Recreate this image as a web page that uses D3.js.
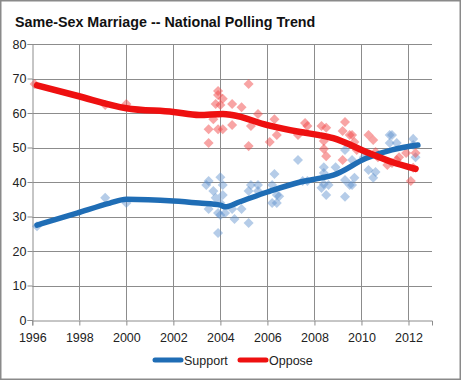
<!DOCTYPE html>
<html><head><meta charset="utf-8">
<script src="https://cdn.jsdelivr.net/npm/d3@7"></script>
<style>body{margin:0;background:#fff;font-family:"Liberation Sans",Arial,sans-serif}</style>
</head><body><svg id="c" width="461" height="380"></svg>
<script>
const title = "Same-Sex Marriage -- National Polling Trend";
const xTicks = [1996,1998,2000,2002,2004,2006,2008,2010,2012];
const yTicks = [0,10,20,30,40,50,60,70,80];
const seriesNames = ["Support","Oppose"];

const supportTrendYears = [1996.2,1997.9,1999.3,2000,2002,2003.1,2004,2004.2,2004.8,2006,2007.4,2008.3,2008.8,2010.2,2011.3,2012.4];
const supportTrendVals  = [27.5,31,33.9,35,34.5,33.9,33.3,32.8,34.2,37.1,40,41.2,42,46.9,49.3,50.7];
const opposeTrendYears = [1996.2,1997.9,2000,2002,2003.1,2004.1,2004.5,2006,2007.4,2008.2,2008.8,2010.2,2011.3,2012.3];
const opposeTrendVals  = [68,65,61.4,60.3,59.4,59.7,59.4,56.5,54.5,53.6,52.7,48.7,45.8,43.8];

const supportPollYears = [1996.2,1999.1,2000,2003.5,2003.4,2004,2004.1,2003.7,2004.1,2003.8,2004,2003.5,2003.9,2004,2004.2,2004.5,2004.9,2004.6,2005.2,2003.9,2005.2,2005.3,2005.6,2005.6,2006.2,2006.3,2006.4,2006.2,2006.4,2006.5,2007.3,2007.5,2007.7,2008.4,2008.4,2008.4,2008.3,2008.6,2008.5,2008.9,2009.3,2009.3,2009.3,2009.5,2009.6,2009.7,2009.6,2010.1,2010.3,2010.5,2010.6,2011.2,2011.3,2011.2,2011.5,2012.2,2012.2,2012.3];
const supportPollVals  = [27.2,35.4,33.9,40.3,39.1,41.4,39.1,37.4,36.2,35.4,33.9,32.2,31,30.4,31,32.2,32.2,29.3,28.1,25.2,37.4,39.1,39.1,37.4,39.1,42.3,36.2,33.9,33.9,35.9,46.4,40.3,40.3,44.3,42.6,39.4,38.3,39.1,36.2,44.3,49.3,40.6,35.7,39.1,46.4,41.2,39.1,47.2,43.5,41.2,42.9,53.6,53.6,51.3,51.3,52.5,50.7,47.2];

const opposePollYears = [1996.1,1999.1,2000,2005.2,2003.9,2003.9,2004.1,2003.8,2004,2004.5,2004.9,2005.6,2003.7,2004.5,2005.3,2003.5,2003.9,2004.1,2006.3,2006.4,2003.5,2005.2,2006.1,2007.6,2007.7,2008.3,2008.5,2009.3,2009.2,2009.5,2007.3,2008.4,2008.4,2008.5,2009.2,2009.6,2009.7,2009.8,2010.3,2010.5,2010.6,2010.7,2011.1,2011.3,2011.5,2011.6,2011.9,2012.3,2012.2,2012.1];
const opposePollVals  = [68.4,62.3,62.6,68.4,66.4,65.2,64.1,62.6,62.3,62.6,61.7,59.7,58.2,56.5,56.2,55.3,55.3,55.3,58.2,53.6,51.3,50.4,51.6,57.1,56.2,56.2,55.7,57.4,54.8,53.6,53.6,51.9,49.6,47.5,46.4,53.6,51.6,49.3,53.6,52.2,48.7,47.2,44.9,45.5,46.4,47.2,48.4,48.4,44.1,40.3];

const supportColor = "#1f6db5", opposeColor = "#ee1010";
const supportPt = "#5b8fcc", opposePt = "#f24a4a";

const svg = d3.select("#c");
svg.append("rect").attr("x",0.75).attr("y",0.75).attr("width",459.5).attr("height",378.5)
  .attr("fill","#fff").attr("stroke","#8a8a8a").attr("stroke-width",1.5);

const x = d3.scaleLinear().domain([1996,2013]).range([32.3,432]);
const y = d3.scaleLinear().domain([0,80]).range([320,44]);

svg.append("text").attr("x",15).attr("y",27).attr("font-size",14.3).attr("font-weight","bold")
  .attr("fill","#111").text(title);

// grid
const g = svg.append("g");
g.selectAll(".hg").data(yTicks.filter(d=>d>0)).join("line")
  .attr("x1",x(1996)).attr("x2",x(2013)).attr("y1",d=>Math.round(y(d))+0.5).attr("y2",d=>Math.round(y(d))+0.5)
  .attr("stroke","#8c8c8c").attr("stroke-width",1);
g.selectAll(".vg").data(xTicks.filter(d=>d>1996)).join("line")
  .attr("y1",y(0)).attr("y2",y(80)).attr("x1",d=>Math.round(x(d))+0.5).attr("x2",d=>Math.round(x(d))+0.5)
  .attr("stroke","#8c8c8c").attr("stroke-width",1);

// axes
const xAxis = svg.append("g").attr("transform",`translate(0,${Math.round(y(0))+0.5})`)
  .call(d3.axisBottom(x).tickValues(xTicks).tickFormat(d3.format("d")).tickSizeOuter(0).tickSize(5));
const yAxis = svg.append("g").attr("transform",`translate(${Math.round(x(1996))+0.5},0)`)
  .call(d3.axisLeft(y).tickValues(yTicks).tickSizeOuter(0).tickSize(5));
[xAxis,yAxis].forEach(a=>{
  a.select(".domain").attr("stroke","#8c8c8c");
  a.selectAll(".tick line").attr("stroke","#8c8c8c");
  a.selectAll("text").attr("font-family","Liberation Sans, Arial, sans-serif").attr("font-size",12.5).attr("fill","#222");
});
xAxis.selectAll("text").attr("dy","1.05em");
yAxis.selectAll("text").attr("x",-6);

// scatter diamonds
const diamond = d3.symbol().type(d3.symbolDiamond2).size(64);
const supPts = supportPollYears.map((yr,i)=>[yr,supportPollVals[i]]);
const oppPts = opposePollYears.map((yr,i)=>[yr,opposePollVals[i]]);
svg.append("g").selectAll("path").data(supPts).join("path")
  .attr("d",diamond).attr("transform",d=>`translate(${x(d[0])},${y(d[1])})`)
  .attr("fill",supportPt).attr("fill-opacity",0.45);
svg.append("g").selectAll("path").data(oppPts).join("path")
  .attr("d",diamond).attr("transform",d=>`translate(${x(d[0])},${y(d[1])})`)
  .attr("fill",opposePt).attr("fill-opacity",0.5);

// trend lines
const line = d3.line().x(d=>x(d[0])).y(d=>y(d[1])).curve(d3.curveMonotoneX);
svg.append("path").datum(supportTrendYears.map((yr,i)=>[yr,supportTrendVals[i]]))
  .attr("d",line).attr("fill","none").attr("stroke",supportColor).attr("stroke-width",5.5)
  .attr("stroke-linecap","round").attr("stroke-linejoin","round");
svg.append("path").datum(opposeTrendYears.map((yr,i)=>[yr,opposeTrendVals[i]]))
  .attr("d",line).attr("fill","none").attr("stroke",opposeColor).attr("stroke-width",6.5)
  .attr("stroke-linecap","round").attr("stroke-linejoin","round");

// legend
const lg = svg.append("g");
const legendX = [155,240];
const legendColors = [supportColor, opposeColor];
seriesNames.forEach((n,i)=>{
  lg.append("line").attr("x1",legendX[i]).attr("x2",legendX[i]+26).attr("y1",360).attr("y2",360)
    .attr("stroke",legendColors[i]).attr("stroke-width",5).attr("stroke-linecap","round");
  lg.append("text").attr("x",legendX[i]+29).attr("y",364.5).attr("font-size",12.5).attr("fill","#222").text(n);
});
</script></body></html>
